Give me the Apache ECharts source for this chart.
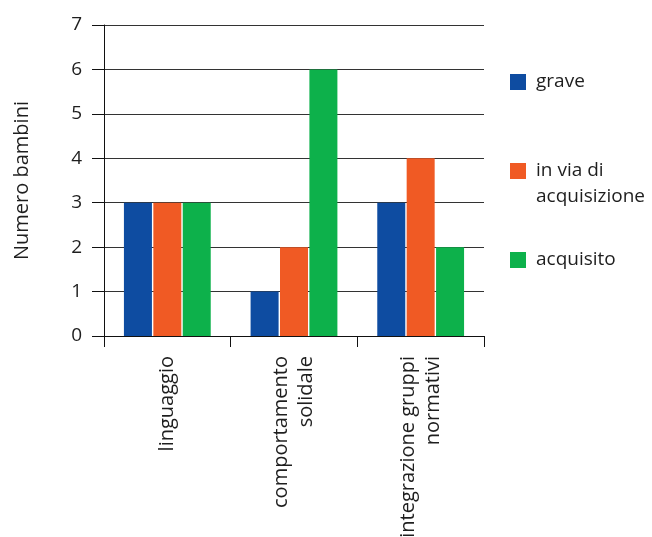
<!DOCTYPE html>
<html>
<head>
<meta charset="utf-8">
<script src="https://cdn.jsdelivr.net/npm/echarts@6/dist/echarts.min.js"></script>
<style>
  html, body { margin: 0; padding: 0; background: #fff; }
  #chart { width: 652px; height: 537px; }
</style>
</head>
<body>
<div id="chart"></div>
<script>
// Categories and counts per level
const categories = ['linguaggio', 'comportamento\nsolidale', 'integrazione gruppi\nnormativi'];
const seriesNames = ['grave', 'in via di\nacquisizione', 'acquisito'];
const grave = [3, 1, 3];
const inVia = [3, 2, 4];
const acquisito = [3, 6, 2];
const yTicks = [0, 1, 2, 3, 4, 5, 6, 7];

const colors = ['#0e4ca1', '#f05a24', '#0db14b'];
const FONT = 'Open Sans';
const TEXT = '#1e1e1e';

const chart = echarts.init(document.getElementById('chart'));

chart.setOption({
  animation: false,
  color: colors,
  legend: {
    orient: 'vertical',
    left: 505,
    top: 64,
    itemWidth: 16,
    itemHeight: 16,
    itemGap: 37,
    icon: 'rect',
    selectedMode: false,
    data: seriesNames,
    // two-line names keep the icon beside their first line
    formatter: function (name) {
      return name.indexOf('\n') >= 0 ? '\n' + name : name;
    },
    textStyle: {
      fontFamily: FONT, fontSize: 19, color: TEXT, lineHeight: 26,
      padding: [0, 0, 0, 5]
    }
  },
  grid: {
    left: 104, right: 168, top: 25, bottom: 201,
    containLabel: false, outerBoundsMode: 'none'
  },
  xAxis: {
    type: 'category',
    data: categories,
    axisLine: { lineStyle: { color: '#111', width: 1 } },
    axisTick: { show: true, length: 11, lineStyle: { color: '#111' } },
    axisLabel: {
      rotate: 90, margin: 20, fontFamily: FONT, fontSize: 20,
      color: TEXT, lineHeight: 25
    }
  },
  yAxis: {
    type: 'value',
    min: yTicks[0],
    max: yTicks[yTicks.length - 1],
    interval: 1,
    name: 'Numero bambini',
    nameLocation: 'middle',
    nameGap: 72,
    nameTextStyle: { fontFamily: FONT, fontSize: 20, color: TEXT },
    axisLine: { show: true, lineStyle: { color: '#111' } },
    axisTick: { show: true, length: 12, lineStyle: { color: '#111' } },
    axisLabel: { margin: 22, fontFamily: FONT, fontSize: 19, color: TEXT },
    splitLine: { lineStyle: { color: '#333', width: 1 } }
  },
  series: [
    { name: seriesNames[0], type: 'bar', data: grave, barWidth: 28, barGap: '5%' },
    { name: seriesNames[1], type: 'bar', data: inVia, barWidth: 28, barGap: '5%' },
    { name: seriesNames[2], type: 'bar', data: acquisito, barWidth: 28, barGap: '5%' }
  ]
});
</script>
</body>
</html>
